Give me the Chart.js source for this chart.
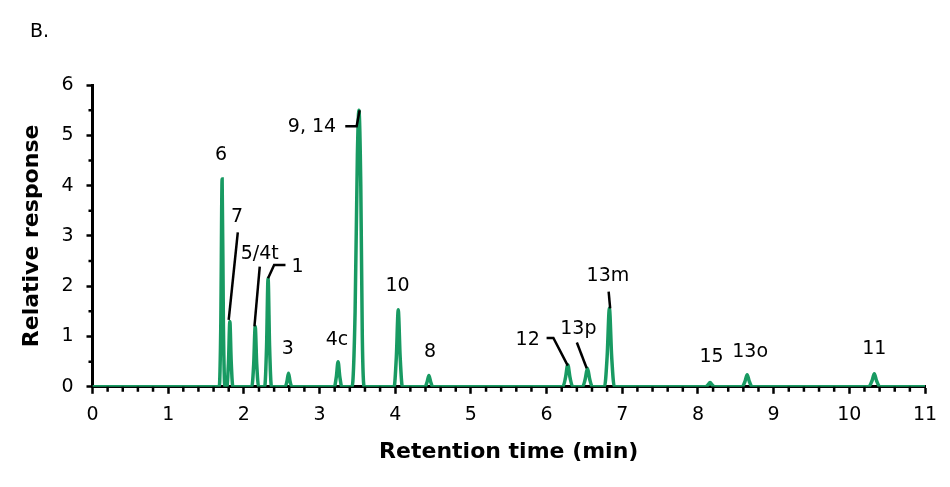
<!DOCTYPE html>
<html lang="en">
<head>
<meta charset="UTF-8">
<title>Chromatogram B</title>
<script src="https://cdn.jsdelivr.net/npm/chart.js"></script>
<style>
  html, body { margin: 0; padding: 0; background: #fff; }
</style>
</head>
<body>
<canvas id="chrom" width="950" height="487"></canvas>
<script>
// trace: retention time (min) and relative response
const retentionTime = [
  0,
  1.675, 1.695, 1.713, 1.73, 1.75,
  1.775, 1.797, 1.815, 1.833, 1.855,
  2.105, 2.13, 2.15, 2.17, 2.195,
  2.275, 2.30, 2.32, 2.34, 2.365,
  2.545, 2.57, 2.59, 2.61, 2.635,
  3.195, 3.222, 3.245, 3.268, 3.295,
  3.43, 3.47, 3.50, 3.52, 3.545, 3.565, 3.59,
  3.985, 4.015, 4.04, 4.065, 4.095,
  4.395, 4.42, 4.445, 4.47, 4.495,
  6.215, 6.25, 6.28, 6.31, 6.345,
  6.475, 6.51, 6.54, 6.57, 6.605,
  6.765, 6.80, 6.83, 6.86, 6.895,
  8.095, 8.13, 8.16, 8.19, 8.225,
  8.585, 8.62, 8.65, 8.68, 8.715,
  10.255, 10.30, 10.33, 10.36, 10.405,
  11
];
const response = [
  0,
  0, 1.2, 4.13, 1.2, 0,
  0, 0.5, 1.30, 0.5, 0,
  0, 0.45, 1.20, 0.45, 0,
  0, 0.8, 2.16, 0.8, 0,
  0, 0.11, 0.27, 0.11, 0,
  0, 0.2, 0.50, 0.2, 0,
  0, 1.5, 4.6, 5.50, 4.0, 1.0, 0,
  0, 0.6, 1.53, 0.6, 0,
  0, 0.09, 0.225, 0.09, 0,
  0, 0.18, 0.44, 0.18, 0,
  0, 0.15, 0.37, 0.15, 0,
  0, 0.6, 1.56, 0.6, 0,
  0, 0.035, 0.085, 0.035, 0,
  0, 0.1, 0.24, 0.1, 0,
  0, 0.12, 0.26, 0.12, 0,
  0
];

// peak labels (centre of text, in data units)
const peakNames = ['6', '7', '5/4t', '1', '3', '4c', '9, 14', '10', '8', '12', '13p', '13m', '15', '13o', '11'];
const labelTime = [1.70, 1.91, 2.21, 2.71, 2.58, 3.23, 2.90, 4.03, 4.46, 5.75, 6.42, 6.81, 8.18, 8.69, 10.33];
const labelResp = [4.61, 3.38, 2.64, 2.39, 0.75, 0.93, 5.17, 2.00, 0.70, 0.93, 1.15, 2.20, 0.60, 0.70, 0.76];

// leader lines from label to peak, [time, response] points
const leaders = [
  [[1.92, 3.07], [1.80, 1.33]],
  [[2.21, 2.39], [2.14, 1.20]],
  [[2.55, 2.42], [2.40, 2.42], [2.32, 2.16]],
  [[3.34, 5.18], [3.49, 5.18], [3.53, 5.50]],
  [[6.00, 0.97], [6.09, 0.97], [6.28, 0.42]],
  [[6.40, 0.88], [6.53, 0.37]],
  [[6.82, 1.89], [6.84, 1.56]]
];

const xTicks = [0, 1, 2, 3, 4, 5, 6, 7, 8, 9, 10, 11];
const yTicks = [0, 1, 2, 3, 4, 5, 6];

const fontFamily = '"DejaVu Sans", Verdana, sans-serif';

const extras = {
  id: 'extras',
  afterDatasetsDraw(chart) {
    const {ctx, scales: {x, y}} = chart;
    ctx.save();
    // minor ticks
    ctx.strokeStyle = '#000';
    ctx.lineWidth = 2.5;
    ctx.beginPath();
    for (let i = 0; i < xTicks.length - 1; i++) {
      for (let k = 1; k < 5; k++) {
        const px = x.getPixelForValue(xTicks[i] + k * 0.2);
        ctx.moveTo(px, y.bottom);
        ctx.lineTo(px, y.bottom + 5);
      }
    }
    for (let i = 0; i < yTicks.length - 1; i++) {
      const py = y.getPixelForValue(yTicks[i] + 0.5);
      ctx.moveTo(x.left, py);
      ctx.lineTo(x.left - 4, py);
    }
    ctx.stroke();

    // leader lines
    ctx.lineWidth = 2.5;
    leaders.forEach(pts => {
      ctx.beginPath();
      pts.forEach((p, j) => {
        const px = x.getPixelForValue(p[0]);
        const py = y.getPixelForValue(p[1]);
        if (j === 0) ctx.moveTo(px, py); else ctx.lineTo(px, py);
      });
      ctx.stroke();
    });

    // peak names
    ctx.fillStyle = '#000';
    ctx.font = '19px ' + fontFamily;
    ctx.textAlign = 'center';
    ctx.textBaseline = 'middle';
    peakNames.forEach((name, i) => {
      ctx.fillText(name, x.getPixelForValue(labelTime[i]), y.getPixelForValue(labelResp[i]));
    });

    // panel letter
    ctx.textAlign = 'left';
    ctx.fillText('B.', 30, 32);
    ctx.restore();
  }
};

new Chart(document.getElementById('chrom'), {
  type: 'line',
  data: {
    labels: retentionTime,
    datasets: [{
      data: retentionTime.map((t, i) => ({x: t, y: response[i]})),
      borderColor: '#189A62',
      borderWidth: 3.5,
      pointRadius: 0,
      cubicInterpolationMode: 'monotone',
      fill: false
    }]
  },
  options: {
    responsive: false,
    animation: false,
    layout: { padding: { left: 19, right: 25, top: 85, bottom: 22 } },
    plugins: { legend: { display: false }, tooltip: { enabled: false } },
    scales: {
      x: {
        type: 'linear',
        min: 0,
        max: 11,
        afterBuildTicks: s => { s.ticks = xTicks.map(v => ({value: v})); },
        ticks: { color: '#000', font: { family: fontFamily, size: 19 }, padding: 10, maxRotation: 0 },
        grid: { drawOnChartArea: false, tickLength: 7, tickWidth: 2.5, tickColor: '#000' },
        border: { color: '#000', width: 3 },
        title: {
          display: true,
          text: 'Retention time (min)',
          color: '#000',
          font: { family: fontFamily, size: 22, weight: 'bold' },
          padding: { top: 2, bottom: 0 }
        }
      },
      y: {
        min: 0,
        max: 6,
        afterBuildTicks: s => { s.ticks = yTicks.map(v => ({value: v})); },
        ticks: { color: '#000', font: { family: fontFamily, size: 19 }, padding: 13 },
        grid: { drawOnChartArea: false, tickLength: 6, tickWidth: 2.5, tickColor: '#000' },
        border: { color: '#000', width: 3 },
        title: {
          display: true,
          text: 'Relative response',
          color: '#000',
          font: { family: fontFamily, size: 22, weight: 'bold' },
          padding: { top: 0, bottom: 3 }
        }
      }
    }
  },
  plugins: [extras]
});
</script>
</body>
</html>
